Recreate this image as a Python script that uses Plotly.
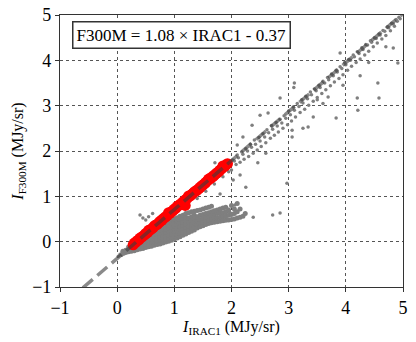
import plotly.graph_objects as go

# --- gray pixels: main band along the fit ---
band_x = [0.02, 0.05, 0.08, 0.10, 0.12, 0.15, 0.18, 0.20, 0.22, 0.25, 0.28,
          1.25, 1.40, 1.55, 1.70, 1.85, 1.95,
          2.02, 2.05, 2.08, 2.10, 2.12, 2.15, 2.18, 2.20, 2.22, 2.25, 2.28, 2.30,
          2.33, 2.35, 2.38, 2.40, 2.42, 2.45, 2.48, 2.50, 2.52, 2.55, 2.58, 2.60,
          2.62, 2.65, 2.68, 2.70, 2.72, 2.75, 2.78, 2.80, 2.82, 2.85, 2.88, 2.90,
          2.92, 2.95, 2.98, 3.00, 3.03, 3.05, 3.08, 3.10, 3.12, 3.15, 3.18, 3.20,
          3.23, 3.25, 3.28, 3.30, 3.33, 3.35, 3.38, 3.40, 3.43, 3.45, 3.48, 3.50,
          3.53, 3.55, 3.58, 3.60, 3.63, 3.65, 3.68, 3.70, 3.73, 3.75, 3.78, 3.80,
          3.83, 3.85, 3.88, 3.90, 3.93, 3.95, 3.98, 4.00, 4.03, 4.05, 4.08, 4.10,
          4.13, 4.15, 4.18, 4.20, 4.23, 4.25, 4.28, 4.30, 4.33, 4.35, 4.38, 4.40,
          4.43, 4.45, 4.48, 4.50, 4.53, 4.55, 4.58, 4.60, 4.63, 4.65, 4.68, 4.70,
          4.73, 4.75, 4.78, 4.80, 4.83, 4.85, 4.88, 4.90, 4.93, 4.95]
band_y = [-0.32, -0.28, -0.30, -0.24, -0.27, -0.20, -0.22, -0.16, -0.19, -0.12, -0.15,
          0.79, 0.95, 1.11, 1.27, 1.43, 1.54,
          1.80, 1.78, 1.70, 1.91, 1.85, 1.75, 1.98, 1.93, 1.82, 2.05, 2.00, 1.88,
          2.15, 2.08, 1.95, 2.24, 2.15, 2.02, 2.30, 2.22, 2.10, 2.38, 2.31, 2.18,
          2.47, 2.40, 2.28, 2.56, 2.48, 2.35, 2.63, 2.55, 2.42, 2.70, 2.62, 2.50,
          2.78, 2.72, 2.58, 2.88, 2.80, 2.66, 2.97, 2.90, 2.75, 3.05, 2.98, 2.85,
          3.13, 3.06, 2.92, 3.21, 3.15, 3.01, 3.30, 3.24, 3.10, 3.37, 3.33, 3.18,
          3.45, 3.40, 3.27, 3.54, 3.50, 3.35, 3.62, 3.57, 3.44, 3.70, 3.66, 3.52,
          3.78, 3.74, 3.60, 3.86, 3.82, 3.68, 3.95, 3.90, 3.78, 4.02, 4.00, 3.87,
          4.12, 4.08, 3.95, 4.19, 4.15, 4.03, 4.28, 4.24, 4.12, 4.35, 4.34, 4.20,
          4.43, 4.40, 4.30, 4.50, 4.48, 4.38, 4.58, 4.56, 4.47, 4.66, 4.64, 4.55,
          4.74, 4.72, 4.65, 4.82, 4.80, 4.75, 4.90, 4.86, 4.95, 4.92]

# --- gray pixels: lower branch (dense wedge below the fit) ---
wedge_x = [0.10, 0.10, 0.15, 0.15, 0.20, 0.20, 0.20, 0.25, 0.25, 0.25,
           0.30, 0.30, 0.30, 0.30, 0.35, 0.35, 0.35, 0.35, 0.35,
           0.40, 0.40, 0.40, 0.40, 0.40, 0.45, 0.45, 0.45, 0.45, 0.45,
           0.50, 0.50, 0.50, 0.50, 0.50, 0.55, 0.55, 0.55, 0.55, 0.55,
           0.60, 0.60, 0.60, 0.60, 0.60, 0.65, 0.65, 0.65, 0.65, 0.65, 0.65,
           0.70, 0.70, 0.70, 0.70, 0.70, 0.70, 0.75, 0.75, 0.75, 0.75, 0.75, 0.75,
           0.80, 0.80, 0.80, 0.80, 0.80, 0.80, 0.85, 0.85, 0.85, 0.85, 0.85, 0.85, 0.85,
           0.90, 0.90, 0.90, 0.90, 0.90, 0.90, 0.90, 0.95, 0.95, 0.95, 0.95, 0.95, 0.95, 0.95,
           1.00, 1.00, 1.00, 1.00, 1.00, 1.00, 1.00, 1.05, 1.05, 1.05, 1.05, 1.05, 1.05, 1.05,
           1.10, 1.10, 1.10, 1.10, 1.10, 1.10, 1.10, 1.15, 1.15, 1.15, 1.15, 1.15, 1.15, 1.15,
           1.20, 1.20, 1.20, 1.20, 1.20, 1.20, 1.20, 1.25, 1.25, 1.25, 1.25, 1.25, 1.25,
           1.30, 1.30, 1.30, 1.30, 1.30, 1.30, 1.35, 1.35, 1.35, 1.35, 1.35, 1.35,
           1.40, 1.40, 1.40, 1.40, 1.40, 1.45, 1.45, 1.45, 1.45, 1.45,
           1.50, 1.50, 1.50, 1.50, 1.50, 1.55, 1.55, 1.55, 1.55, 1.55,
           1.60, 1.60, 1.60, 1.60, 1.60, 1.65, 1.65, 1.65, 1.65, 1.65,
           1.70, 1.70, 1.70, 1.70, 1.75, 1.75, 1.75, 1.75, 1.80, 1.80, 1.80, 1.80,
           1.85, 1.85, 1.85, 1.85, 1.90, 1.90, 1.90, 1.90, 1.95, 1.95, 1.95,
           2.00, 2.00, 2.00, 2.05, 2.05, 2.05, 2.10, 2.10, 2.10, 2.15, 2.15, 2.20, 2.24]
wedge_y = [-0.25, -0.21, -0.24, -0.19, -0.22, -0.17, -0.12, -0.21, -0.15, -0.09,
           -0.20, -0.14, -0.08, -0.03, -0.18, -0.12, -0.06, 0.00, 0.04,
           -0.16, -0.10, -0.04, 0.02, 0.08, -0.15, -0.08, -0.02, 0.05, 0.11,
           -0.13, -0.06, 0.01, 0.08, 0.14, -0.11, -0.04, 0.03, 0.10, 0.17,
           -0.10, -0.02, 0.06, 0.13, 0.21, -0.08, -0.01, 0.06, 0.13, 0.20, 0.26,
           -0.06, 0.01, 0.08, 0.15, 0.22, 0.29, -0.05, 0.03, 0.10, 0.18, 0.25, 0.33,
           -0.03, 0.05, 0.12, 0.20, 0.28, 0.36, -0.01, 0.06, 0.13, 0.20, 0.27, 0.34, 0.41,
           0.01, 0.08, 0.15, 0.23, 0.30, 0.37, 0.44, 0.03, 0.10, 0.17, 0.25, 0.32, 0.40, 0.47,
           0.06, 0.13, 0.20, 0.27, 0.35, 0.43, 0.50, 0.08, 0.15, 0.23, 0.30, 0.38, 0.46, 0.53,
           0.11, 0.18, 0.26, 0.33, 0.41, 0.49, 0.56, 0.14, 0.21, 0.29, 0.36, 0.43, 0.51, 0.58,
           0.17, 0.24, 0.31, 0.38, 0.46, 0.54, 0.62, 0.20, 0.27, 0.35, 0.43, 0.52, 0.64,
           0.23, 0.30, 0.38, 0.46, 0.55, 0.66, 0.26, 0.33, 0.41, 0.49, 0.58, 0.67,
           0.30, 0.38, 0.46, 0.55, 0.69, 0.33, 0.41, 0.49, 0.58, 0.70,
           0.35, 0.43, 0.51, 0.60, 0.72, 0.38, 0.46, 0.54, 0.62, 0.74,
           0.40, 0.48, 0.56, 0.64, 0.76, 0.42, 0.50, 0.58, 0.66, 0.78,
           0.43, 0.52, 0.60, 0.68, 0.44, 0.53, 0.62, 0.70, 0.45, 0.54, 0.63, 0.72,
           0.46, 0.55, 0.64, 0.74, 0.47, 0.56, 0.66, 0.76, 0.48, 0.58, 0.70,
           0.49, 0.60, 0.80, 0.50, 0.62, 0.72, 0.52, 0.66, 0.84, 0.54, 0.72, 0.56, 0.62]

# --- gray pixels: scattered outliers ---
out_x = [4.83, 4.56, 4.25, 4.20, 3.83, 4.21, 3.34, 3.25, 2.85, 3.10, 3.09, 3.50,
         3.69, 3.90, 4.91, 4.58, 3.43, 3.06, 3.06, 2.50, 2.64, 2.36, 2.20, 2.10,
         2.46, 2.15, 2.03, 1.71, 2.00, 2.97, 2.85, 2.72, 2.38, 1.97, 0.40, 0.45,
         0.55, 0.50, 0.62, 2.06, 2.60, 3.60, 4.40, 4.70, 2.25, 1.80, 3.95]
out_y = [4.27, 3.50, 3.66, 3.17, 2.73, 2.90, 2.53, 2.50, 3.17, 3.50, 3.40, 3.13,
         3.19, 4.16, 3.94, 3.17, 2.75, 2.46, 2.31, 2.79, 2.84, 2.57, 2.31, 2.13,
         1.74, 1.47, 1.36, 1.74, 1.58, 1.29, 0.63, 0.59, 0.54, 0.65, 0.59, 0.52,
         0.55, 0.48, 0.62, 0.81, 1.95, 3.05, 3.95, 4.30, 1.20, 1.05, 3.45]

# --- red pixels used for the fit ---
red_x = [0.28, 0.30, 0.33, 0.35, 0.38, 0.40, 0.43, 0.45, 0.48, 0.50, 0.53, 0.55,
         0.58, 0.60, 0.63, 0.65, 0.68, 0.70, 0.73, 0.75, 0.78, 0.80, 0.83, 0.85,
         0.88, 0.90, 0.93, 0.95, 0.98, 1.00, 1.03, 1.05, 1.08, 1.10, 1.13, 1.15,
         1.18, 1.19, 1.20, 1.23, 1.25, 1.28, 1.30, 1.33, 1.35, 1.38, 1.40, 1.43,
         1.45, 1.48, 1.50, 1.53, 1.55, 1.58, 1.60, 1.63, 1.65, 1.68, 1.70, 1.73,
         1.75, 1.78, 1.80, 1.83, 1.85, 1.88, 1.90, 1.93]
red_y = [-0.07, -0.03, -0.01, 0.02, 0.04, 0.08, 0.10, 0.12, 0.15, 0.18, 0.20, 0.25,
         0.26, 0.28, 0.31, 0.35, 0.37, 0.38, 0.42, 0.45, 0.47, 0.50, 0.53, 0.55,
         0.58, 0.64, 0.63, 0.66, 0.69, 0.72, 0.74, 0.78, 0.80, 0.82, 0.85, 0.88,
         0.90, 0.80, 0.93, 0.96, 1.01, 1.01, 1.04, 1.07, 1.10, 1.12, 1.14, 1.17,
         1.20, 1.23, 1.25, 1.28, 1.31, 1.34, 1.38, 1.39, 1.42, 1.44, 1.47, 1.50,
         1.52, 1.55, 1.58, 1.61, 1.67, 1.66, 1.69, 1.72]

# --- fitted line F300M = 1.08 x IRAC1 - 0.37 ---
fit_x = [-0.6, 5.0]
fit_y = [-1.018, 5.03]
fit_label = "F300M = 1.08 × IRAC1 - 0.37"

FONT = "Liberation Serif"
GRAY = "#7f7f7f"

fig = go.Figure()

# dense wedge drawn with slightly bigger dots so it reads as a filled cloud
fig.add_trace(go.Scatter(x=wedge_x, y=wedge_y, mode='markers',
                         marker=dict(size=5, color=GRAY),
                         showlegend=False, hoverinfo='skip'))
fig.add_trace(go.Scatter(x=band_x + out_x, y=band_y + out_y,
                         mode='markers', marker=dict(size=3.5, color=GRAY),
                         showlegend=False, hoverinfo='skip'))
fig.add_trace(go.Scatter(x=red_x, y=red_y, mode='markers',
                         marker=dict(size=11, color='#ff0000'),
                         showlegend=False))
fig.add_trace(go.Scatter(x=fit_x, y=fit_y, mode='lines',
                         line=dict(color='rgba(60,60,60,0.6)', width=3.5, dash='13px,6px'),
                         showlegend=False))

axis_common = dict(range=[-1, 5], dtick=1, showgrid=True, gridcolor='#555',
                   gridwidth=0.7, griddash='dot', zeroline=False, automargin=False,
                   showline=True, linecolor='#333', linewidth=1.2, mirror=True,
                   ticks='outside', ticklen=4, tickcolor='#333',
                   tickfont=dict(family=FONT, size=18, color='black'))

fig.update_xaxes(**axis_common,
                 title=dict(text="<i>I</i><sub>IRAC1</sub> (MJy/sr)",
                            font=dict(family=FONT, size=16, color='black'), standoff=2))
fig.update_yaxes(**axis_common,
                 title=dict(text="<i>I</i><sub>F300M</sub> (MJy/sr)",
                            font=dict(family=FONT, size=16, color='black'), standoff=4))

fig.add_annotation(x=-0.79, y=4.86, xref='x', yref='y', xanchor='left', yanchor='top',
                   text=fit_label, showarrow=False,
                   font=dict(family=FONT, size=17, color='black'),
                   bordercolor='#333', borderwidth=1.5, borderpad=3, bgcolor='white')

fig.update_layout(width=416, height=342, plot_bgcolor='white', paper_bgcolor='white',
                  font=dict(family=FONT),
                  margin=dict(l=60, r=13, t=15, b=55))

# the page's default body margin shifts the figure; remove it
fig.write_html("out.html", config={'displayModeBar': False},
               post_script="document.body.style.margin='0';document.body.style.overflow='hidden';")
